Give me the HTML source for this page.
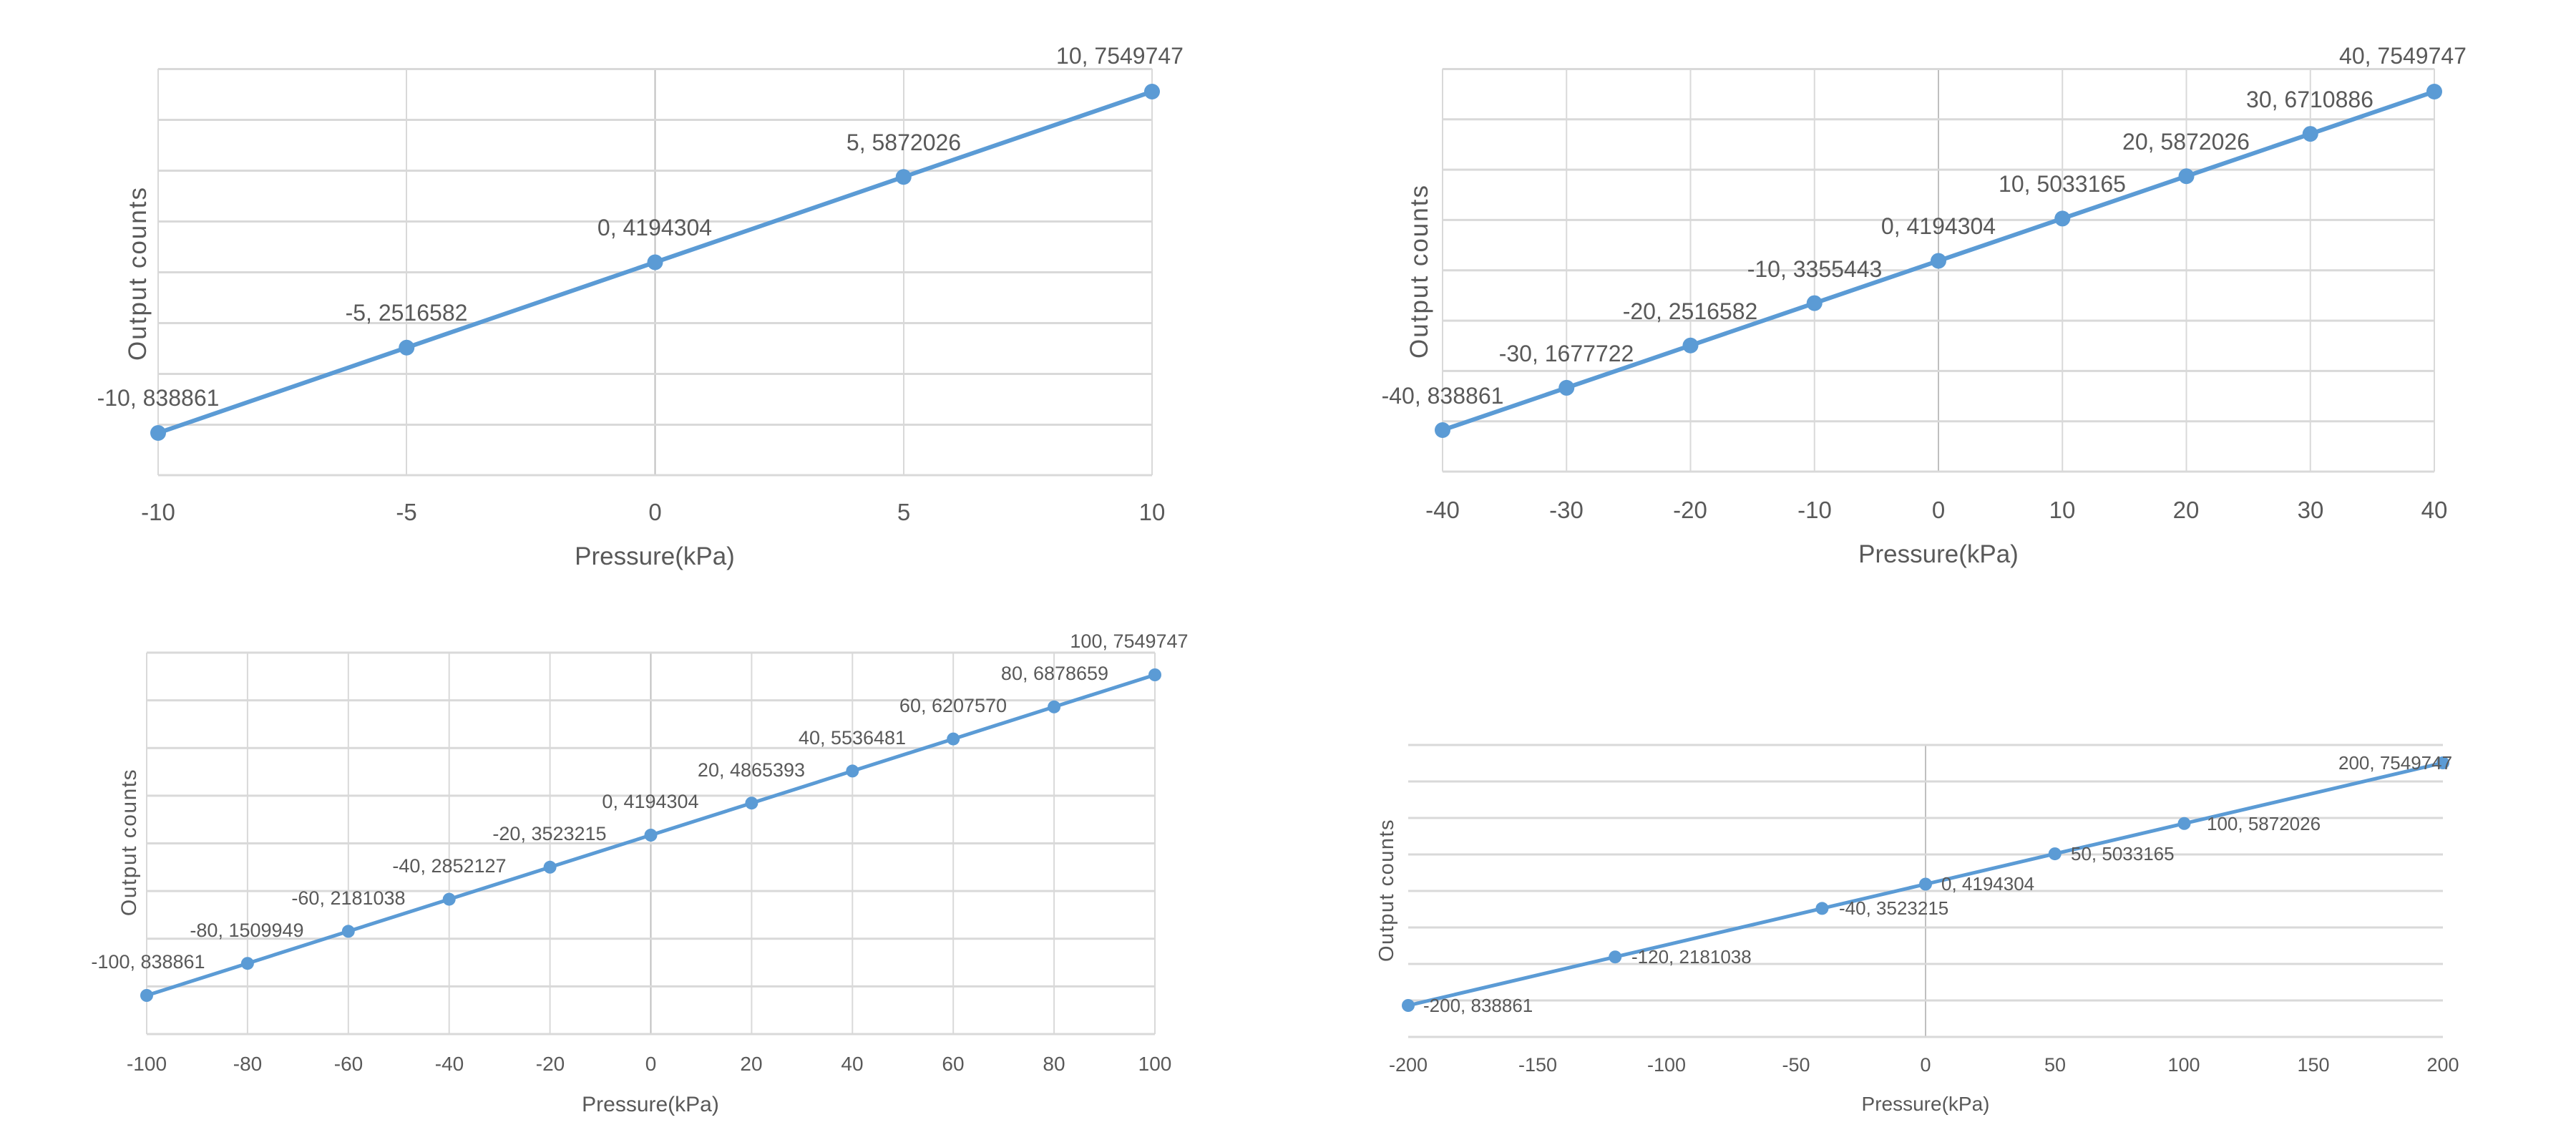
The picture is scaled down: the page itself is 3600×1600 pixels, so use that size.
<!DOCTYPE html>
<html><head><meta charset="utf-8"><style>
html,body{margin:0;padding:0;background:#fff;}
svg{display:block;}
text{font-family:"Liberation Sans",sans-serif;fill:#595959;}
</style></head><body>
<svg width="3600" height="1600" viewBox="0 0 3600 1600" xmlns="http://www.w3.org/2000/svg">
<rect width="3600" height="1600" fill="#fff"/>

<!-- ===== TL ===== -->
<g stroke="#d9d9d9" stroke-width="2">
<line x1="221" y1="96" x2="221" y2="664"/><line x1="568" y1="96" x2="568" y2="664"/><line x1="1263" y1="96" x2="1263" y2="664"/><line x1="1610" y1="96" x2="1610" y2="664"/>
</g>
<line x1="915.5" y1="96" x2="915.5" y2="664" stroke="#bfbfbf" stroke-width="2"/>
<g stroke="#d9d9d9" stroke-width="3">
<line x1="221" y1="96.5" x2="1610" y2="96.5"/><line x1="221" y1="167.5" x2="1610" y2="167.5"/><line x1="221" y1="238.5" x2="1610" y2="238.5"/><line x1="221" y1="309.5" x2="1610" y2="309.5"/><line x1="221" y1="380.5" x2="1610" y2="380.5"/><line x1="221" y1="451.5" x2="1610" y2="451.5"/><line x1="221" y1="522.5" x2="1610" y2="522.5"/><line x1="221" y1="593.5" x2="1610" y2="593.5"/><line x1="221" y1="664" x2="1610" y2="664"/>
</g>
<polyline points="221,605 568.25,485.75 915.5,366.5 1262.75,247.25 1610,128" fill="none" stroke="#5b9bd5" stroke-width="6"/>
<g fill="#5b9bd5"><circle cx="221" cy="605" r="11"/><circle cx="568.25" cy="485.75" r="11"/><circle cx="915.5" cy="366.5" r="11"/><circle cx="1262.75" cy="247.25" r="11"/><circle cx="1610" cy="128" r="11"/></g>
<g font-size="32" text-anchor="middle">
<text x="221" y="567">-10, 838861</text><text x="568" y="448">-5, 2516582</text><text x="915" y="329">0, 4194304</text><text x="1263" y="210">5, 5872026</text><text x="1565" y="89">10, 7549747</text>
</g>
<g font-size="33" text-anchor="middle">
<text x="221" y="727">-10</text><text x="568" y="727">-5</text><text x="915.5" y="727">0</text><text x="1263" y="727">5</text><text x="1610" y="727">10</text>
<text x="915" y="789" font-size="35">Pressure(kPa)</text>
<text transform="translate(204,382) rotate(-90)" font-size="35" letter-spacing="2">Output counts</text>
</g>

<!-- ===== TR ===== -->
<g stroke="#d9d9d9" stroke-width="2">
<line x1="2016" y1="96" x2="2016" y2="659"/><line x1="2189.25" y1="96" x2="2189.25" y2="659"/><line x1="2362.5" y1="96" x2="2362.5" y2="659"/><line x1="2535.75" y1="96" x2="2535.75" y2="659"/><line x1="2882.25" y1="96" x2="2882.25" y2="659"/><line x1="3055.5" y1="96" x2="3055.5" y2="659"/><line x1="3228.75" y1="96" x2="3228.75" y2="659"/><line x1="3402" y1="96" x2="3402" y2="659"/>
</g>
<line x1="2709" y1="96" x2="2709" y2="659" stroke="#bfbfbf" stroke-width="2"/>
<g stroke="#d9d9d9" stroke-width="3">
<line x1="2016" y1="96.5" x2="3402" y2="96.5"/><line x1="2016" y1="166.8" x2="3402" y2="166.8"/><line x1="2016" y1="237.1" x2="3402" y2="237.1"/><line x1="2016" y1="307.4" x2="3402" y2="307.4"/><line x1="2016" y1="377.8" x2="3402" y2="377.8"/><line x1="2016" y1="448.1" x2="3402" y2="448.1"/><line x1="2016" y1="518.4" x2="3402" y2="518.4"/><line x1="2016" y1="588.7" x2="3402" y2="588.7"/><line x1="2016" y1="659" x2="3402" y2="659"/>
</g>
<polyline points="2016,601 2189.25,541.9 2362.5,482.75 2535.75,423.6 2709,364.5 2882.25,305.4 3055.5,246.25 3228.75,187.1 3402,128" fill="none" stroke="#5b9bd5" stroke-width="6"/>
<g fill="#5b9bd5"><circle cx="2016" cy="601" r="11"/><circle cx="2189.25" cy="541.9" r="11"/><circle cx="2362.5" cy="482.75" r="11"/><circle cx="2535.75" cy="423.6" r="11"/><circle cx="2709" cy="364.5" r="11"/><circle cx="2882.25" cy="305.4" r="11"/><circle cx="3055.5" cy="246.25" r="11"/><circle cx="3228.75" cy="187.1" r="11"/><circle cx="3402" cy="128" r="11"/></g>
<g font-size="32" text-anchor="middle">
<text x="2016" y="564">-40, 838861</text><text x="2189" y="505">-30, 1677722</text><text x="2362" y="446">-20, 2516582</text><text x="2536" y="387">-10, 3355443</text><text x="2709" y="327">0, 4194304</text><text x="2882" y="268">10, 5033165</text><text x="3055" y="209">20, 5872026</text><text x="3228" y="150">30, 6710886</text><text x="3358" y="89">40, 7549747</text>
</g>
<g font-size="33" text-anchor="middle">
<text x="2016" y="724">-40</text><text x="2189" y="724">-30</text><text x="2362" y="724">-20</text><text x="2536" y="724">-10</text><text x="2709" y="724">0</text><text x="2882" y="724">10</text><text x="3055" y="724">20</text><text x="3229" y="724">30</text><text x="3402" y="724">40</text>
<text x="2709" y="786" font-size="35">Pressure(kPa)</text>
<text transform="translate(1995,379) rotate(-90)" font-size="35" letter-spacing="2">Output counts</text>
</g>

<!-- ===== BL ===== -->
<g stroke="#d9d9d9" stroke-width="2">
<line x1="205" y1="912" x2="205" y2="1445"/><line x1="345.9" y1="912" x2="345.9" y2="1445"/><line x1="486.8" y1="912" x2="486.8" y2="1445"/><line x1="627.7" y1="912" x2="627.7" y2="1445"/><line x1="768.6" y1="912" x2="768.6" y2="1445"/><line x1="1050.4" y1="912" x2="1050.4" y2="1445"/><line x1="1191.3" y1="912" x2="1191.3" y2="1445"/><line x1="1332.2" y1="912" x2="1332.2" y2="1445"/><line x1="1473.1" y1="912" x2="1473.1" y2="1445"/><line x1="1614" y1="912" x2="1614" y2="1445"/>
</g>
<line x1="909.5" y1="912" x2="909.5" y2="1445" stroke="#bfbfbf" stroke-width="2"/>
<g stroke="#d9d9d9" stroke-width="3">
<line x1="205" y1="912" x2="1614" y2="912"/><line x1="205" y1="978.6" x2="1614" y2="978.6"/><line x1="205" y1="1045.3" x2="1614" y2="1045.3"/><line x1="205" y1="1111.9" x2="1614" y2="1111.9"/><line x1="205" y1="1178.5" x2="1614" y2="1178.5"/><line x1="205" y1="1245.1" x2="1614" y2="1245.1"/><line x1="205" y1="1311.8" x2="1614" y2="1311.8"/><line x1="205" y1="1378.4" x2="1614" y2="1378.4"/><line x1="205" y1="1445" x2="1614" y2="1445"/>
</g>
<polyline points="205,1391 345.9,1346.2 486.8,1301.4 627.7,1256.6 768.6,1211.8 909.5,1167 1050.4,1122.2 1191.3,1077.4 1332.2,1032.6 1473.1,987.8 1614,943" fill="none" stroke="#5b9bd5" stroke-width="5"/>
<g fill="#5b9bd5"><circle cx="205" cy="1391" r="9"/><circle cx="345.9" cy="1346.2" r="9"/><circle cx="486.8" cy="1301.4" r="9"/><circle cx="627.7" cy="1256.6" r="9"/><circle cx="768.6" cy="1211.8" r="9"/><circle cx="909.5" cy="1167" r="9"/><circle cx="1050.4" cy="1122.2" r="9"/><circle cx="1191.3" cy="1077.4" r="9"/><circle cx="1332.2" cy="1032.6" r="9"/><circle cx="1473.1" cy="987.8" r="9"/><circle cx="1614" cy="943" r="9"/></g>
<g font-size="27" text-anchor="middle">
<text x="207" y="1353">-100, 838861</text><text x="345" y="1309">-80, 1509949</text><text x="487" y="1264">-60, 2181038</text><text x="628" y="1219">-40, 2852127</text><text x="768" y="1174">-20, 3523215</text><text x="909" y="1129">0, 4194304</text><text x="1050" y="1085">20, 4865393</text><text x="1191" y="1040">40, 5536481</text><text x="1332" y="995">60, 6207570</text><text x="1474" y="950">80, 6878659</text><text x="1578" y="905">100, 7549747</text>
</g>
<g font-size="28" text-anchor="middle">
<text x="205" y="1496">-100</text><text x="346" y="1496">-80</text><text x="487" y="1496">-60</text><text x="628" y="1496">-40</text><text x="769" y="1496">-20</text><text x="909.5" y="1496">0</text><text x="1050" y="1496">20</text><text x="1191" y="1496">40</text><text x="1332" y="1496">60</text><text x="1473" y="1496">80</text><text x="1614" y="1496">100</text>
<text x="909" y="1553" font-size="30">Pressure(kPa)</text>
<text transform="translate(190,1177) rotate(-90)" font-size="30" letter-spacing="1.5">Output counts</text>
</g>

<!-- ===== BR ===== -->
<line x1="2691" y1="1041" x2="2691" y2="1449" stroke="#bfbfbf" stroke-width="2"/>
<g stroke="#d9d9d9" stroke-width="3">
<line x1="1968" y1="1041" x2="3414" y2="1041"/><line x1="1968" y1="1092" x2="3414" y2="1092"/><line x1="1968" y1="1143" x2="3414" y2="1143"/><line x1="1968" y1="1194" x2="3414" y2="1194"/><line x1="1968" y1="1245" x2="3414" y2="1245"/><line x1="1968" y1="1296" x2="3414" y2="1296"/><line x1="1968" y1="1347" x2="3414" y2="1347"/><line x1="1968" y1="1398" x2="3414" y2="1398"/><line x1="1968" y1="1449" x2="3414" y2="1449"/>
</g>
<polyline points="1968,1405 2257.2,1337.2 2546.4,1269.4 2691,1235.5 2871.75,1193.1 3052.5,1150.75 3414,1066" fill="none" stroke="#5b9bd5" stroke-width="5"/>
<g fill="#5b9bd5"><circle cx="1968" cy="1405" r="9"/><circle cx="2257.2" cy="1337.2" r="9"/><circle cx="2546.4" cy="1269.4" r="9"/><circle cx="2691" cy="1235.5" r="9"/><circle cx="2871.75" cy="1193.1" r="9"/><circle cx="3052.5" cy="1150.75" r="9"/><circle cx="3414" cy="1066" r="9"/></g>
<g font-size="26">
<text x="1989" y="1414">-200, 838861</text><text x="2280" y="1346">-120, 2181038</text><text x="2570" y="1278">-40, 3523215</text><text x="2713" y="1244">0, 4194304</text><text x="2894" y="1202">50, 5033165</text><text x="3084" y="1160">100, 5872026</text><text x="3268" y="1075">200, 7549747</text>
</g>
<g font-size="27" text-anchor="middle">
<text x="1968" y="1497">-200</text><text x="2149" y="1497">-150</text><text x="2329" y="1497">-100</text><text x="2510" y="1497">-50</text><text x="2691" y="1497">0</text><text x="2872" y="1497">50</text><text x="3052" y="1497">100</text><text x="3233" y="1497">150</text><text x="3414" y="1497">200</text>
<text x="2691" y="1552" font-size="28">Pressure(kPa)</text>
<text transform="translate(1947,1244) rotate(-90)" font-size="29" letter-spacing="1.5">Output counts</text>
</g>
</svg>
</body></html>
